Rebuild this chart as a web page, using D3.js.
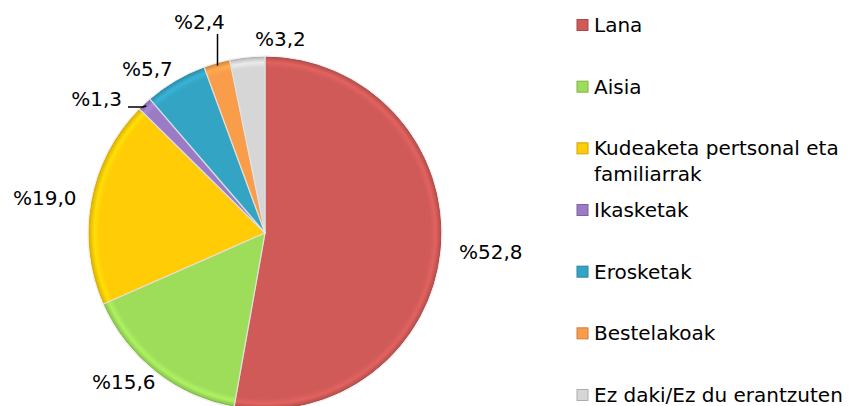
<!DOCTYPE html>
<html>
<head>
<meta charset="utf-8">
<script src="https://cdn.jsdelivr.net/npm/d3@7"></script>
<style>
  body { margin: 0; background: #fff; }
  svg { display: block; font-family: "DejaVu Sans", Verdana, sans-serif; }
</style>
</head>
<body>
<div id="chart"></div>
<script>
const categories = ["Lana", "Aisia", "Kudeaketa pertsonal eta familiarrak", "Ikasketak", "Erosketak", "Bestelakoak", "Ez daki/Ez du erantzuten"];
const legendLines = [["Lana"], ["Aisia"], ["Kudeaketa pertsonal eta", "familiarrak"], ["Ikasketak"], ["Erosketak"], ["Bestelakoak"], ["Ez daki/Ez du erantzuten"]];
const values = [52.8, 15.6, 19.0, 1.3, 5.7, 2.4, 3.2];
const labels = ["%52,8", "%15,6", "%19,0", "%1,3", "%5,7", "%2,4", "%3,2"];
const colors = ["#cf5a57", "#9edd5a", "#ffcc05", "#9b7bc6", "#33a4c4", "#f99d4b", "#d6d6d6"];

const width = 853, height = 406;
const cx = 265, cy = 233, r = 176;

// label spots [x, baseline, anchor]
const labelPos = [[459, 259, "start"], [92, 389, "start"], [13, 205, "start"], [122, 106, "end"], [122, 76, "start"], [174, 29, "start"], [255, 46, "start"]];

const svg = d3.select("#chart").append("svg")
  .attr("width", width).attr("height", height);

// gradients live in the pie group's space (origin at pie centre)
const defs = svg.append("defs");
colors.forEach((c, i) => {
  const g = defs.append("radialGradient")
    .attr("id", "g" + i)
    .attr("gradientUnits", "userSpaceOnUse")
    .attr("cx", 0).attr("cy", 0).attr("r", r);
  g.append("stop").attr("offset", "0%").attr("stop-color", c);
  g.append("stop").attr("offset", "94%").attr("stop-color", c);
  g.append("stop").attr("offset", "97%").attr("stop-color", d3.color(c).brighter(0.25));
  g.append("stop").attr("offset", "100%").attr("stop-color", d3.color(c).darker(0.4));
});

const pie = d3.pie().sort(null).value(d => d);
const arcs = pie(values);
const arc = d3.arc().innerRadius(0).outerRadius(r);

const g = svg.append("g").attr("transform", `translate(${cx},${cy})`);

g.selectAll("path.slice")
  .data(arcs)
  .join("path")
  .attr("class", "slice")
  .attr("d", arc)
  .attr("fill", (d, i) => `url(#g${i})`)
  .attr("stroke", (d, i) => d3.color(colors[i]).darker(0.5))
  .attr("stroke-width", 1)
  .attr("stroke-linejoin", "round");

// light gap between slices
g.selectAll("path.gap")
  .data(arcs)
  .join("path")
  .attr("class", "gap")
  .attr("d", d3.arc().innerRadius(0).outerRadius(r + 1))
  .attr("fill", "none")
  .attr("stroke", "#e8e8e8")
  .attr("stroke-opacity", 0.7)
  .attr("stroke-width", 1.2);

// data labels
svg.selectAll("text.lbl")
  .data(labels)
  .join("text")
  .attr("class", "lbl")
  .attr("x", (d, i) => labelPos[i][0])
  .attr("y", (d, i) => labelPos[i][1])
  .attr("text-anchor", (d, i) => labelPos[i][2])
  .attr("font-size", 20)
  .attr("fill", "#000")
  .text(d => d);

// leader lines for small slices
const leader = svg.append("g").attr("stroke", "#000").attr("stroke-width", 1.5).attr("fill", "none");
{
  const a = arcs[3], m = (a.startAngle + a.endAngle) / 2;
  const px = cx + Math.sin(m) * (r - 2), py = cy - Math.cos(m) * (r - 2);
  leader.append("polyline").attr("points", `128,107 ${px - 3},107 ${px},${py}`);
}
{
  const a = arcs[5], m = (a.startAngle + a.endAngle) / 2;
  const px = cx + Math.sin(m) * (r - 2), py = cy - Math.cos(m) * (r - 2);
  leader.append("line").attr("x1", px).attr("x2", px).attr("y1", 34).attr("y2", py);
}

// legend
const legendY = d3.scalePoint().domain(d3.range(categories.length)).range([25, 395]);
const items = svg.append("g").selectAll("g").data(categories).join("g")
  .attr("transform", (d, i) => `translate(577,${legendY(i)})`);
items.append("rect")
  .attr("x", 0).attr("y", -5.5).attr("width", 11).attr("height", 11)
  .attr("fill", (d, i) => colors[i])
  .attr("stroke", (d, i) => d3.color(colors[i]).darker(0.6))
  .attr("stroke-width", 1);
items.append("text")
  .attr("x", 17)
  .attr("y", 7)
  .attr("font-size", 20)
  .selectAll("tspan")
  .data((d, i) => legendLines[i])
  .join("tspan")
  .attr("x", 17)
  .attr("dy", (d, j) => j === 0 ? 0 : 26)
  .text(d => d);
</script>
</body>
</html>
